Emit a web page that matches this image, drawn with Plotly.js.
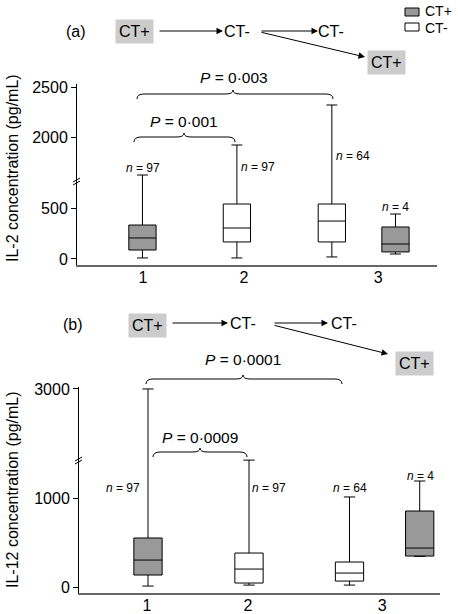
<!DOCTYPE html>
<html>
<head>
<meta charset="utf-8">
<script src="https://cdn.plot.ly/plotly-3.0.1.min.js"></script>
<style>html,body{margin:0;padding:0;background:#fff;}#chart{width:458px;height:614px;}</style>
</head>
<body>
<div id="chart"></div>
<script>
// ---------- DATA ----------
const xTickLabels = ['1', '2', '3'];
const boxStatus = ['CT+', 'CT-', 'CT-', 'CT+'];

// Panel (a): IL-2 concentration (pg/mL)
const il2Min    = [10, 10, 20, 49];
const il2Q1     = [88, 167, 167, 69];
const il2Median = [206, 304, 372, 147];
const il2Q3     = [333, 539, 539, 314];
const il2Max    = [1620, 1920, 2320, 441];
const il2N      = [97, 97, 64, 4];
const il2YTicks = [0, 500, 2000, 2500];
const il2PValues = ['0·001', '0·003'];

// Panel (b): IL-12 concentration (pg/mL)
const il12Min    = [11, 22, 22, 345];
const il12Q1     = [135, 45, 67, 348];
const il12Median = [303, 202, 157, 438];
const il12Q3     = [551, 382, 281, 854];
const il12Max    = [3000, 2200, 1012, 1191];
const il12N      = [97, 97, 64, 4];
const il12YTicks = [0, 1000, 3000];
const il12PValues = ['0·0009', '0·0001'];

// ---------- LAYOUT HELPERS ----------
const W = 458, H = 614;
const px = v => v / W;
const py = v => 1 - v / H;
const FONT = 'Liberation Sans, Arial, sans-serif';
const GRAY = '#999999';
const LIGHT = '#cccccc';

const posA = [0.995, 1.93, 2.87, 3.5];
const posB = [1.01, 2.01, 3.005, 3.70];
const tickPos = [1, 2, 3.33];

function boxes(pos, mn, q1, med, q3, mx, width, xa, ya) {
  return pos.map((p, i) => ({
    type: 'box', x: [p], q1: [q1[i]], median: [med[i]], q3: [q3[i]],
    lowerfence: [mn[i]], upperfence: [mx[i]],
    xaxis: xa, yaxis: ya, width: width, whiskerwidth: 0.4,
    boxpoints: false, fillcolor: boxStatus[i] === 'CT+' ? GRAY : '#ffffff',
    line: {color: '#000', width: 1}, showlegend: false, hoverinfo: 'skip'
  }));
}

const traces = [].concat(
  boxes(posA, il2Min, il2Q1, il2Median, il2Q3, il2Max, 0.27, 'x', 'y'),
  boxes(posA, il2Min, il2Q1, il2Median, il2Q3, il2Max, 0.27, 'x', 'y2'),
  boxes(posB, il12Min, il12Q1, il12Median, il12Q3, il12Max, 0.28, 'x2', 'y3'),
  boxes(posB, il12Min, il12Q1, il12Median, il12Q3, il12Max, 0.28, 'x2', 'y4')
);

const yCommon = {
  showline: true, linecolor: '#000', linewidth: 1, ticks: 'outside', ticklen: 5,
  tickwidth: 1, tickcolor: '#000', showgrid: false, zeroline: false,
  tickfont: {family: FONT, size: 16, color: '#000'}, fixedrange: true
};
const xCommon = {
  showline: true, linecolor: '#666', linewidth: 2, ticks: '', showgrid: false,
  zeroline: false, tickmode: 'array', tickvals: tickPos, ticktext: xTickLabels,
  ticklabelstandoff: -3,
  tickfont: {family: FONT, size: 16, color: '#000'}, fixedrange: true
};

const annotations = [];
const shapes = [];
function txt(t, x, y, size, extra) {
  annotations.push(Object.assign({text: t, x: px(x), y: py(y), xref: 'paper', yref: 'paper',
    showarrow: false, xanchor: 'center', yanchor: 'middle',
    font: {family: FONT, size: size, color: '#000'}}, extra || {}));
}
function arrow(x1, y1, x2, y2) {
  annotations.push({text: '', x: px(x2), y: py(y2), ax: px(x1), ay: py(y1),
    xref: 'paper', yref: 'paper', axref: 'paper', ayref: 'paper', showarrow: true,
    arrowhead: 2, arrowsize: 1.3, arrowwidth: 1, arrowcolor: '#000', standoff: 0, startstandoff: 0});
}
function brace(x1, x2, y, xm) {
  const d = 5, h = 4, r = 7;
  const P = (x, yy) => px(x) + ',' + py(yy);
  const path = 'M' + P(x1, y + d) + ' Q' + P(x1, y) + ' ' + P(x1 + r, y) +
    ' L' + P(xm - r, y) + ' Q' + P(xm, y) + ' ' + P(xm, y - h) +
    ' Q' + P(xm, y) + ' ' + P(xm + r, y) + ' L' + P(x2 - r, y) +
    ' Q' + P(x2, y) + ' ' + P(x2, y + d);
  shapes.push({type: 'path', path: path, xref: 'paper', yref: 'paper', line: {color: '#000', width: 1}});
}
function breakMark(x, y) {
  shapes.push({type: 'line', xref: 'paper', yref: 'paper', x0: px(x - 4), y0: py(y + 2), x1: px(x + 3), y1: py(y - 2), line: {color: '#000', width: 1}});
  shapes.push({type: 'line', xref: 'paper', yref: 'paper', x0: px(x - 4), y0: py(y + 5), x1: px(x + 3), y1: py(y + 1), line: {color: '#000', width: 1}});
}

// Flow diagram (a)
txt('(a)', 76, 31, 16);
txt('CT+', 134, 31, 16, {bgcolor: LIGHT, borderpad: 3});
arrow(158, 31, 223, 31);
txt('CT-', 237, 31, 16);
arrow(260, 31, 318, 31);
txt('CT-', 331, 31, 16);
arrow(260, 32, 365, 57);
txt('CT+', 386, 62, 16, {bgcolor: LIGHT, borderpad: 3});

// Flow diagram (b)
txt('(b)', 73, 324, 16);
txt('CT+', 147, 325, 16, {bgcolor: LIGHT, borderpad: 3});
arrow(171, 323, 228, 323);
txt('CT-', 243, 323, 16);
arrow(273, 323, 328, 323);
txt('CT-', 344, 323, 16);
arrow(273, 325, 388, 354);
txt('CT+', 414, 363, 16, {bgcolor: LIGHT, borderpad: 3});

// Legend
shapes.push({type: 'rect', xref: 'paper', yref: 'paper', x0: px(405), x1: px(419), y0: py(8), y1: py(16), fillcolor: GRAY, line: {color: '#000', width: 1}});
shapes.push({type: 'rect', xref: 'paper', yref: 'paper', x0: px(405), x1: px(419), y0: py(23), y1: py(31), fillcolor: '#fff', line: {color: '#000', width: 1}});
txt('CT+', 423, 11, 14, {xanchor: 'left'});
txt('CT-', 423, 28, 14, {xanchor: 'left'});

// P-values and braces (a)
txt('<i>P</i> = ' + il2PValues[1], 234, 77, 15.5);
brace(137, 333, 94, 233);
txt('<i>P</i> = ' + il2PValues[0], 184, 122, 15.5);
brace(134, 235, 137, 184);
// P-values and braces (b)
txt('<i>P</i> = ' + il12PValues[1], 243, 359, 15.5);
brace(146, 342, 379, 243);
txt('<i>P</i> = ' + il12PValues[0], 200, 437, 15.5);
brace(153, 247, 452, 200);

// n labels
const nPosA = [[143, 168], [258, 167], [353, 156], [395, 207]];
const nPosB = [[123, 488], [269, 488], [350, 488], [420, 476]];
il2N.forEach((n, i) => txt('<i>n</i> = ' + n, nPosA[i][0], nPosA[i][1], 12));
il12N.forEach((n, i) => txt('<i>n</i> = ' + n, nPosB[i][0], nPosB[i][1], 12));

// Y titles
txt('IL-2 concentration (pg/mL)', 12, 168, 16, {textangle: -90});
txt('IL-12 concentration (pg/mL)', 12, 490, 16, {textangle: -90});

// Axis breaks
breakMark(77, 180);
breakMark(79, 459);

const layout = {
  width: W, height: H, margin: {l: 0, r: 0, t: 0, b: 0},
  paper_bgcolor: '#fff', plot_bgcolor: 'rgba(0,0,0,0)', showlegend: false,
  boxmode: 'overlay', hovermode: false,
  font: {family: FONT, color: '#000'},
  xaxis: Object.assign({}, xCommon, {domain: [px(77), px(437)], range: [0.347, 3.911], anchor: 'y'}),
  yaxis: Object.assign({}, yCommon, {domain: [py(265), py(182)], range: [-59, 755], tickvals: il2YTicks.filter(v => v < 755), anchor: 'x'}),
  yaxis2: Object.assign({}, yCommon, {domain: [py(182), py(84)], range: [1550, 2530], tickvals: il2YTicks.filter(v => v > 1550), anchor: 'x'}),
  xaxis2: Object.assign({}, xCommon, {domain: [px(79), px(440)], range: [0.327, 3.901], anchor: 'y3'}),
  yaxis3: Object.assign({}, yCommon, {domain: [py(593), py(461)], range: [-67, 1416], tickvals: il12YTicks.filter(v => v < 1416), anchor: 'x2'}),
  yaxis4: Object.assign({}, yCommon, {domain: [py(461), py(387)], range: [2190, 3022], tickvals: il12YTicks.filter(v => v > 2190), anchor: 'x2'}),
  annotations: annotations, shapes: shapes
};

Plotly.newPlot('chart', traces, layout, {staticPlot: true, displayModeBar: false});
</script>
</body>
</html>
